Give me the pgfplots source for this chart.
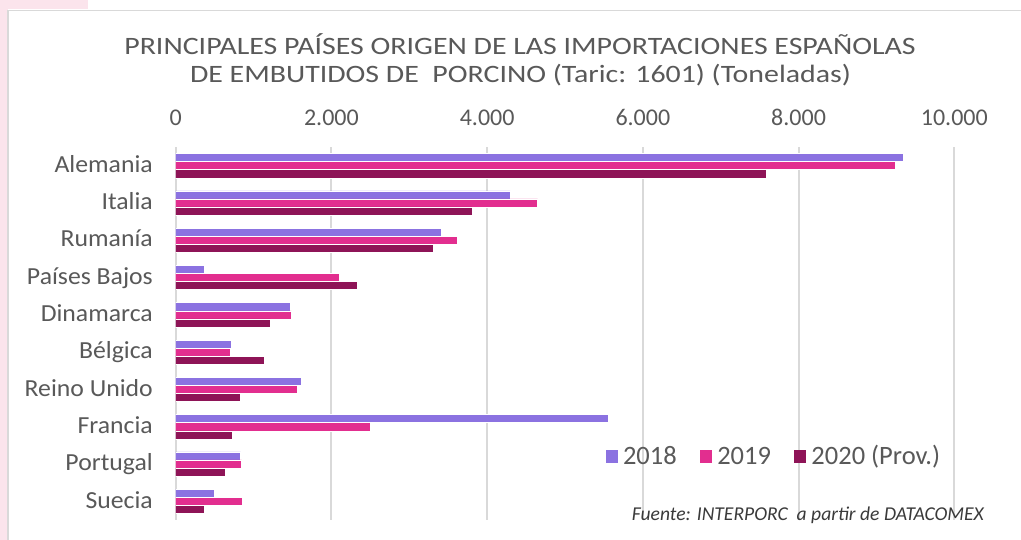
\documentclass[border=0pt]{standalone}
\usepackage{pgfplots}
\pgfplotsset{compat=1.18}
\usepackage{pgfplotstable}
\usepackage{fontspec}
\setmainfont{Carlito}
\newfontfamily\titlefont[FakeStretch=1.195]{Carlito}
\newfontfamily\lblfont[FakeStretch=1.05]{Carlito}

\definecolor{c2018}{RGB}{139,114,225}
\definecolor{c2019}{RGB}{226,46,143}
\definecolor{c2020}{RGB}{142,20,87}
\definecolor{txtgrey}{RGB}{89,89,89}
\definecolor{srcgrey}{RGB}{58,58,58}
\definecolor{gridgrey}{RGB}{217,217,217}
\definecolor{pinkbg}{RGB}{251,228,236}

% Imports in tonnes; y = row position (Suecia at the bottom)
\pgfplotstableread{
y v2018 v2019 v2020
9 9350 9247 7590
8 4294 4649 3806
7 3407 3613 3305
6 372  2101 2330
5 1468 1485 1215
4 714  697  1143
3 1618 1558 835
2 5552 2504 732
1 835  848  642
0 492  860  372
}\imports

\begin{document}
\begin{tikzpicture}[x=1pt,y=1pt]
\useasboundingbox (0,0) rectangle (1021,540);
\fill[white] (0,0) rectangle (1021,540);
\fill[pinkbg] (0,0) rectangle (7.5,540);
\fill[pinkbg] (0,531) rectangle (88,540);
\draw[gridgrey, line width=1.5pt] (8.2,-5) -- (8.2,529.5) -- (1030,529.5);

\node[anchor=base, inner sep=0pt, text=txtgrey, font=\titlefont\fontsize{25}{30}\selectfont]
  at (520,485.7) {PRINCIPALES PAÍSES ORIGEN DE LAS IMPORTACIONES ESPAÑOLAS};
\node[anchor=base, inner sep=0pt, text=txtgrey, font=\titlefont\fontsize{25}{30}\selectfont]
  at (520.5,457.7) {DE EMBUTIDOS DE\ \ PORCINO (Taric: 1601) (Toneladas)};

\begin{axis}[
  at={(175.7pt,20pt)}, anchor=south west,
  scale only axis, width=778.6pt, height=373pt,
  xbar, bar width=0.217,
  xmin=0, xmax=10000, ymin=-0.5, ymax=9.5,
  axis line style={draw=none},
  scaled x ticks=false,
  xtick={0,2000,...,10000},
  xticklabels={0,2.000,4.000,6.000,8.000,10.000},
  xticklabel pos=upper,
  ytick={0,...,9},
  yticklabels={Suecia,Portugal,Francia,Reino Unido,Bélgica,Dinamarca,Países Bajos,Rumanía,Italia,Alemania},
  major tick length=0pt,
  xmajorgrids, ymajorgrids=false,
  grid style={gridgrey, line width=2pt},
  xticklabel style={anchor=base, yshift=21pt, inner sep=0pt, text=txtgrey,
    font=\fontsize{24}{28}\selectfont},
  yticklabel style={anchor=base east, xshift=-22.7pt, yshift=-6.7pt, inner sep=0pt,
    text=txtgrey, font=\lblfont\fontsize{24.5}{28}\selectfont},
  legend columns=3,
  legend image code/.code={\fill[#1, draw=none] (0pt,1.6pt) rectangle (12pt,13.9pt);},
  legend style={at={(0.5527,0.167)}, anchor=west, draw=none, fill=none,
    inner sep=0pt, outer sep=0pt,
    nodes={inner sep=0pt, anchor=base west, text height=19pt, text depth=6pt,
      text=txtgrey, font=\fontsize{26.5}{30}\selectfont},
    /tikz/every odd column/.append style={column sep=5pt},
    /tikz/every even column/.append style={column sep=23.5pt}},
]
\addplot[fill=c2018, draw=white, line width=0.5pt, bar shift=0.217]
  table[x=v2018, y=y] {\imports};
\addplot[fill=c2019, draw=white, line width=0.5pt, bar shift=0]
  table[x=v2019, y=y] {\imports};
\addplot[fill=c2020, draw=white, line width=0.5pt, bar shift=-0.217]
  table[x=v2020, y=y] {\imports};
\legend{2018,2019,2020 (Prov.)}
\end{axis}

\node[anchor=base west, inner sep=0pt, text=srcgrey, font=\itshape\fontsize{19.6}{24}\selectfont]
  at (631.7,19.3) {Fuente: INTERPORC\ \ a partir de DATACOMEX};
\end{tikzpicture}
\end{document}
